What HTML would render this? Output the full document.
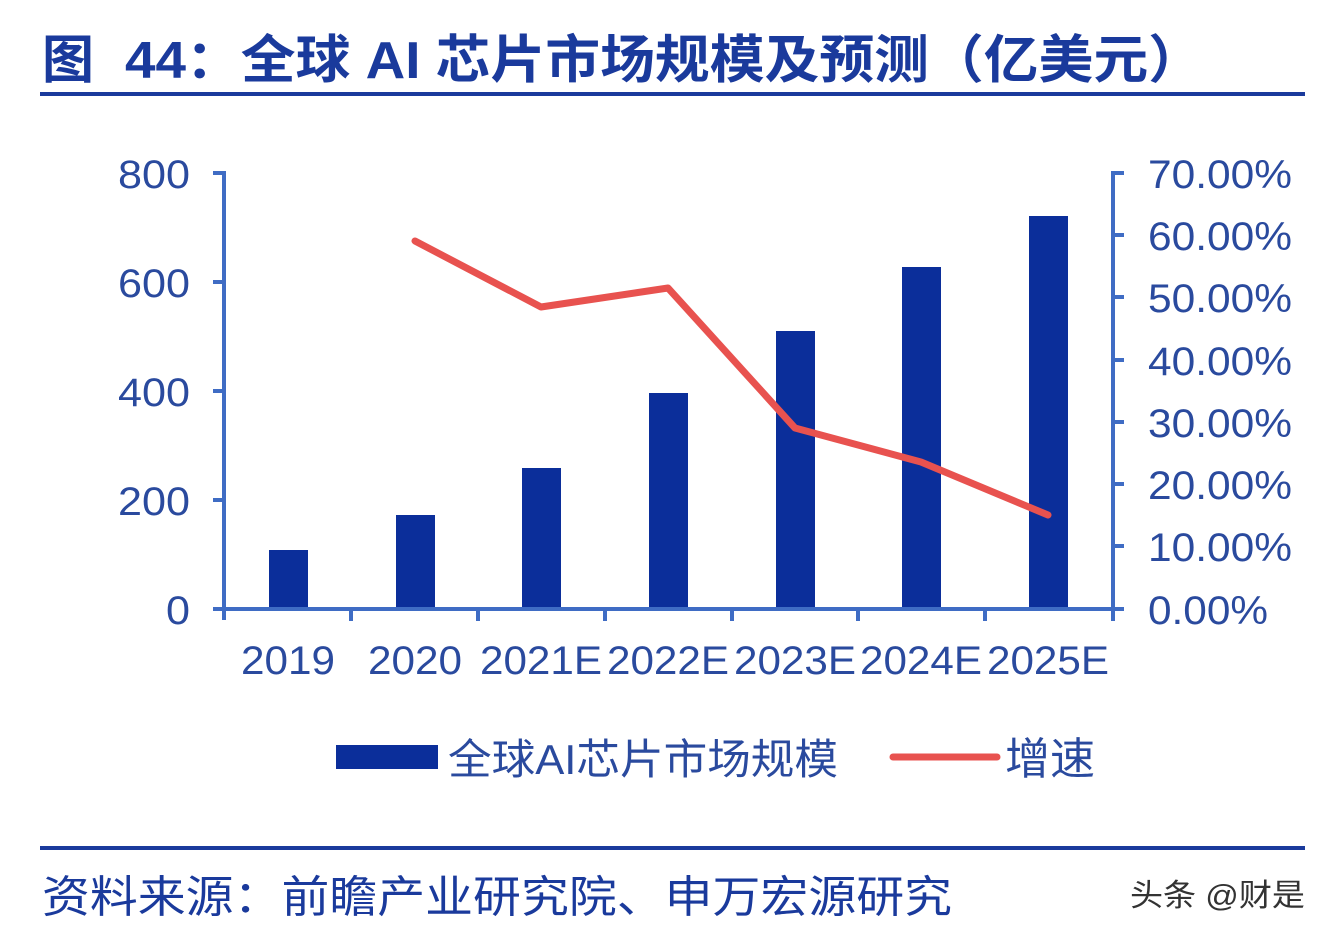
<!DOCTYPE html>
<html><head><meta charset="utf-8"><style>
html,body{margin:0;padding:0;background:#fff;}
body{width:1332px;height:940px;overflow:hidden;position:relative;}
</style></head><body>
<svg width="1332" height="940" xmlns="http://www.w3.org/2000/svg" style="position:absolute;left:0;top:0">
<g font-family="'Liberation Sans','Noto Sans CJK SC',sans-serif">
<text x="42" y="78" font-size="52" font-weight="bold" fill="#1a3a9c">图</text>
<text x="125" y="78" font-size="52" font-weight="bold" fill="#1a3a9c" textLength="1078" lengthAdjust="spacingAndGlyphs">44：全球 AI 芯片市场规模及预测（亿美元）</text>
<rect x="40" y="92" width="1265" height="4" fill="#1a3a9c"/>
<rect x="40" y="846" width="1265" height="4" fill="#1a3a9c"/>
<text x="42" y="912" font-size="44" fill="#1a3a9c" textLength="910" lengthAdjust="spacingAndGlyphs">资料来源：前瞻产业研究院、申万宏源研究</text>
<text x="1130" y="906" font-size="31" fill="#333" textLength="175" lengthAdjust="spacingAndGlyphs">头条 @财是</text>

<g fill="#0b2e9a">
<rect x="269" y="550" width="39" height="58"/>
<rect x="396" y="515" width="39" height="93"/>
<rect x="522" y="468" width="39" height="140"/>
<rect x="649" y="393" width="39" height="215"/>
<rect x="776" y="331" width="39" height="277"/>
<rect x="902" y="267" width="39" height="341"/>
<rect x="1029" y="216" width="39" height="392"/>
</g>

<g stroke="#3f6cc4" stroke-width="4" fill="none">
<path d="M213 173 H224 V620"/>
<path d="M213 282 H224 M213 391 H224 M213 500 H224"/>
<path d="M213 609 H1124"/>
<path d="M351 609 V621 M478 609 V621 M605 609 V621 M732 609 V621 M858 609 V621 M985 609 V621"/>
<path d="M1124 173 H1113 V621"/>
<path d="M1113 235 H1124 M1113 297 H1124 M1113 360 H1124 M1113 422 H1124 M1113 484 H1124 M1113 546 H1124 M1113 609 H1124"/>
</g>

<polyline points="415,241 541,307 668,288 795,428 921,462 1048,515" fill="none" stroke="#e8524f" stroke-width="7" stroke-linejoin="round" stroke-linecap="round"/>

<g font-size="40" fill="#2a4a9e">
<text x="118" y="188" textLength="72" lengthAdjust="spacingAndGlyphs">800</text>
<text x="118" y="297" textLength="72" lengthAdjust="spacingAndGlyphs">600</text>
<text x="118" y="406" textLength="72" lengthAdjust="spacingAndGlyphs">400</text>
<text x="118" y="515" textLength="72" lengthAdjust="spacingAndGlyphs">200</text>
<text x="166" y="624" textLength="24" lengthAdjust="spacingAndGlyphs">0</text>
<text x="1148" y="188" textLength="144" lengthAdjust="spacingAndGlyphs">70.00%</text>
<text x="1148" y="250" textLength="144" lengthAdjust="spacingAndGlyphs">60.00%</text>
<text x="1148" y="312" textLength="144" lengthAdjust="spacingAndGlyphs">50.00%</text>
<text x="1148" y="375" textLength="144" lengthAdjust="spacingAndGlyphs">40.00%</text>
<text x="1148" y="437" textLength="144" lengthAdjust="spacingAndGlyphs">30.00%</text>
<text x="1148" y="499" textLength="144" lengthAdjust="spacingAndGlyphs">20.00%</text>
<text x="1148" y="561" textLength="144" lengthAdjust="spacingAndGlyphs">10.00%</text>
<text x="1148" y="624" textLength="120" lengthAdjust="spacingAndGlyphs">0.00%</text>
<text x="241" y="674" textLength="94" lengthAdjust="spacingAndGlyphs">2019</text>
<text x="368" y="674" textLength="94" lengthAdjust="spacingAndGlyphs">2020</text>
<text x="480" y="674" textLength="122" lengthAdjust="spacingAndGlyphs">2021E</text>
<text x="607" y="674" textLength="122" lengthAdjust="spacingAndGlyphs">2022E</text>
<text x="734" y="674" textLength="122" lengthAdjust="spacingAndGlyphs">2023E</text>
<text x="860" y="674" textLength="122" lengthAdjust="spacingAndGlyphs">2024E</text>
<text x="987" y="674" textLength="122" lengthAdjust="spacingAndGlyphs">2025E</text>
</g>

<rect x="336" y="745" width="102" height="24" fill="#0b2e9a"/>
<text x="448" y="774" font-size="42" fill="#2a4a9e" textLength="390" lengthAdjust="spacingAndGlyphs">全球AI芯片市场规模</text>
<line x1="893" y1="757" x2="997" y2="757" stroke="#e8524f" stroke-width="7" stroke-linecap="round"/>
<text x="1005" y="774" font-size="44" fill="#2a4a9e" textLength="90" lengthAdjust="spacingAndGlyphs">增速</text>
</g>
</svg>
</body></html>
